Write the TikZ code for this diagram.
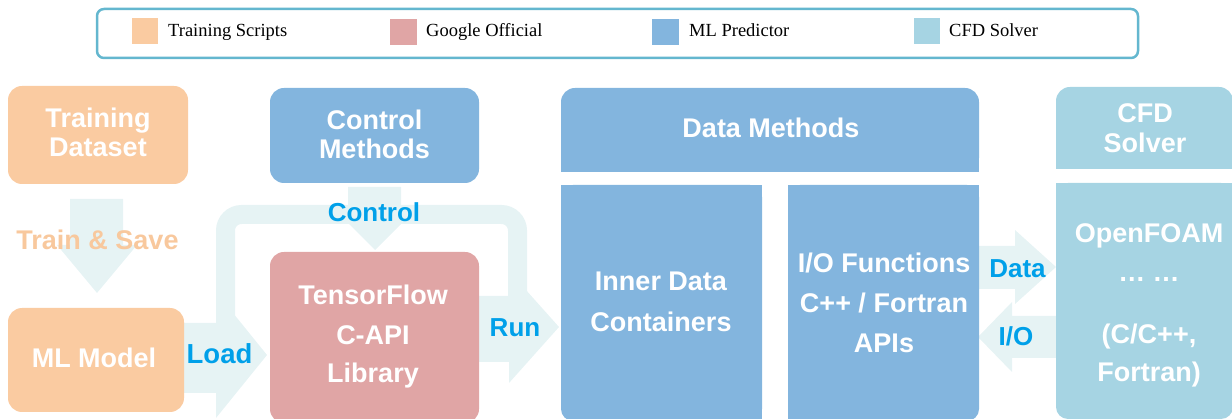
\documentclass[tikz,border=0pt]{standalone}
\usepackage{fontspec}
\setmainfont{Liberation Serif}
\setsansfont{Liberation Sans}
\definecolor{peach}{HTML}{FACBA1}
\definecolor{gpink}{HTML}{E0A5A5}
\definecolor{mlblue}{HTML}{83B5DE}
\definecolor{cfdblue}{HTML}{A6D4E3}
\definecolor{band}{HTML}{E6F3F4}
\definecolor{labcyan}{HTML}{00A0E9}
\definecolor{tstext}{HTML}{F8C89D}
\definecolor{legborder}{HTML}{64B7CF}
\begin{document}
\begin{tikzpicture}[x=1pt,y=-1pt,
  wlbl/.style={font=\sffamily\bfseries\fontsize{27}{32}\selectfont, text=white, anchor=base, inner sep=0},
  flow/.style={font=\sffamily\bfseries\fontsize{26}{30}\selectfont, text=labcyan, anchor=base, inner sep=0},
  legtxt/.style={font=\fontsize{18.5}{22}\selectfont, anchor=base west, inner sep=0},
  blk/.style={fill=band},
  ]
\useasboundingbox (0,0) rectangle (1232,419);
\clip (0,0) rectangle (1232,419);

% ---------- legend ----------
\draw[legborder, line width=2.5pt, rounded corners=7pt, fill=white] (97,9) rectangle (1138,58);
\fill[peach]   (132,18) rectangle (158,44);
\fill[gpink]   (390,19) rectangle (417,45);
\fill[mlblue]  (652,19) rectangle (679,45);
\fill[cfdblue] (914,18) rectangle (940,44);
\node[legtxt] (lg1) at (168,36.5) {Training Scripts};
\node[legtxt] (lg2) at (426,36.5) {Google Official};
\node[legtxt] (lg3) at (689,36.5) {ML Predictor};
\node[legtxt] (lg4) at (949,36.5) {CFD Solver};

% ---------- block arrows (drawn under boxes) ----------
% Train & Save
\fill[blk] (70,199) -- (123,199) -- (123,245) -- (137,245) -- (97,293) -- (57,245) -- (70,245) -- cycle;
% loop band
\draw[band, line width=19pt, rounded corners=16pt] (225.5,318) -- (225.5,214.5) -- (517.5,214.5) -- (517.5,300);
% Control
\fill[blk] (348,187) -- (401,187) -- (401,212) -- (413,212) -- (375,250) -- (337,212) -- (348,212) -- cycle;
% Load
\fill[blk] (178,323) -- (216,323) -- (216,292) -- (267,355) -- (216,418) -- (216,393) -- (178,393) -- cycle;
% Run
\fill[blk] (470,296) -- (509,296) -- (509,271) -- (559,327) -- (509,383) -- (509,362) -- (470,362) -- cycle;
% Data
\fill[blk] (975,246) -- (1015,246) -- (1015,230) -- (1056,267) -- (1015,304) -- (1015,289) -- (975,289) -- cycle;
% I/O
\fill[blk] (1062,316) -- (1012,316) -- (1012,302) -- (978,337) -- (1012,372) -- (1012,358) -- (1062,358) -- cycle;

% ---------- boxes ----------
\fill[peach, rounded corners=14pt] (8,86) rectangle (188,184);
\fill[peach, rounded corners=14pt] (8,308) rectangle (184,412);
\fill[mlblue, rounded corners=14pt] (270,88) rectangle (479,183);
\fill[gpink, rounded corners=14pt] (270,252) rectangle (479,423);
% ML predictor group
\fill[mlblue, rounded corners=14pt] (561,88) rectangle (979,172);
\fill[mlblue] (561,140) rectangle (979,172);
\fill[mlblue, rounded corners=12pt] (561,185) rectangle (762,421);
\fill[mlblue] (561,185) rectangle (762,260);
\fill[mlblue] (700,185) rectangle (762,421);
\fill[mlblue, rounded corners=12pt] (788,185) rectangle (979,421);
\fill[mlblue] (788,185) rectangle (979,260);
\fill[mlblue] (788,185) rectangle (850,421);
% CFD group
\fill[cfdblue, rounded corners=14pt] (1056,87) rectangle (1233,169);
\fill[cfdblue] (1056,140) rectangle (1233,169);
\fill[cfdblue, rounded corners=12pt] (1056,183) rectangle (1233,419);
\fill[cfdblue] (1056,183) rectangle (1233,260);

% ---------- white labels ----------
\node[wlbl] (td1) at (98,128) {Training};
\node[wlbl] (td2) at (98,157) {Dataset};
\node[wlbl] (cm1) at (374.5,130) {Control};
\node[wlbl] (cm2) at (374.5,159) {Methods};
\node[wlbl] (dm)  at (771,138) {Data Methods};
\node[wlbl] (cs1) at (1145,123) {CFD};
\node[wlbl] (cs2) at (1145,153) {Solver};
\node[wlbl] (mlm) at (94,368) {ML Model};
\node[wlbl] (tf1) at (373,305) {TensorFlow};
\node[wlbl] (tf2) at (373,345) {C-API};
\node[wlbl] (tf3) at (373,383) {Library};
\node[wlbl] (id1) at (661,291) {Inner Data};
\node[wlbl] (id2) at (661,332) {Containers};
\node[wlbl] (io1) at (884,273) {I/O Functions};
\node[wlbl] (io2) at (884,313) {C++ / Fortran};
\node[wlbl] (io3) at (884,353) {APIs};
\node[wlbl] (of1) at (1149,243) {OpenFOAM};
\node[wlbl] (of2) at (1149,282) {… …};
\node[wlbl] (of3) at (1149,344) {(C/C++,};
\node[wlbl] (of4) at (1149,382) {Fortran)};

% ---------- flow labels ----------
\node[flow, text=tstext, font=\sffamily\bfseries\fontsize{27}{32}\selectfont] (ts) at (97.5,250) {Train \& Save};
\node[flow] (lc)  at (374,222) {Control};
\node[flow, font=\sffamily\bfseries\fontsize{27.5}{32}\selectfont] (ll)  at (219.5,364) {Load};
\node[flow] (lr)  at (515,337) {Run};
\node[flow] (ld)  at (1017.5,278) {Data};
\node[flow] (lio) at (1016,346) {I/O};
\end{tikzpicture}
\end{document}
